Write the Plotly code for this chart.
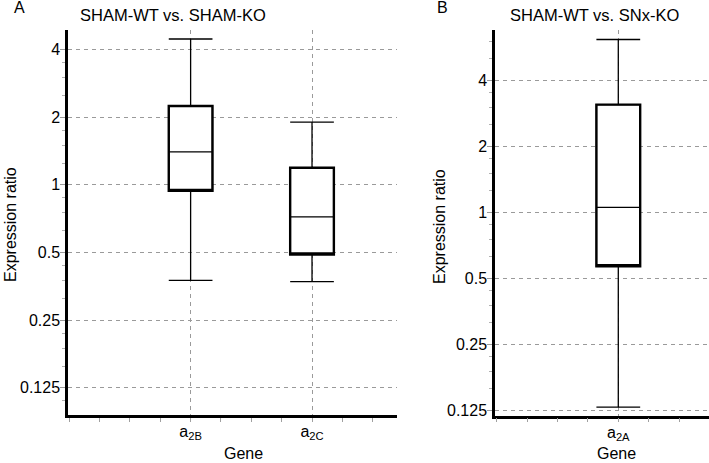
import math
import plotly.graph_objects as go

# ---- data ----
genes_a = ["a<sub>2B</sub>", "a<sub>2C</sub>"]
a_upper = [4.45, 1.90]
a_q3 = [2.24, 1.19]
a_median = [1.40, 0.72]
a_q1 = [0.94, 0.49]
a_lower = [0.376, 0.371]

genes_b = ["a<sub>2A</sub>"]
b_upper = [6.12]
b_q3 = [3.09]
b_median = [1.05]
b_q1 = [0.566]
b_lower = [0.129]

ytick_vals = [0.125, 0.25, 0.5, 1, 2, 4]
ytick_text = ["0.125", "0.25", "0.5", "1", "2", "4"]

W, H = 709, 463
FONT = "Liberation Sans, Arial, Helvetica, sans-serif"


def px(x):
    return x / W


def py(y):
    return 1 - y / H


pos_a = [i + 1 for i in range(len(genes_a))]
pos_b = [i + 1 for i in range(len(genes_b))]

minor_y = sorted({v * f for v in [0.0625] + ytick_vals + [8] for f in (1.25, 1.5, 1.75)})

fig = go.Figure()


def add_boxes(pos, q1, med, q3, lo, hi, xa, ya):
    # thin outline: whiskers + median
    fig.add_trace(go.Box(
        x=pos, q1=q1, median=med, q3=q3, lowerfence=lo, upperfence=hi,
        width=0.36, whiskerwidth=1, boxpoints=False,
        line=dict(color="black", width=1.3), fillcolor="white",
        xaxis=xa, yaxis=ya, showlegend=False, hoverinfo="skip"))
    # thick box outline overlay
    fig.add_trace(go.Box(
        x=pos, q1=q1, median=q1, q3=q3, lowerfence=q1, upperfence=q3,
        width=0.36, whiskerwidth=0, boxpoints=False,
        line=dict(color="black", width=2.4), fillcolor="rgba(0,0,0,0)",
        xaxis=xa, yaxis=ya, showlegend=False, hoverinfo="skip"))


add_boxes(pos_a, a_q1, a_median, a_q3, a_lower, a_upper, "x", "y")
add_boxes(pos_b, b_q1, b_median, b_q3, b_lower, b_upper, "x2", "y2")

grid = dict(showgrid=True, gridcolor="#9a9a9a", gridwidth=1, griddash="4px,4px")
tickfont = dict(family=FONT, size=16, color="black")


def xaxis(domain, rng, pos, labels, anchor):
    return dict(domain=domain, range=rng, tickmode="array", tickvals=pos, ticktext=labels,
                ticks="outside", ticklen=0, tickcolor="rgba(0,0,0,0)",
                showline=True, linecolor="black", linewidth=2.5, zeroline=False,
                tickfont=tickfont, anchor=anchor, automargin=False,
                minor=dict(tick0=0, dtick=0.25, ticks="outside", ticklen=4,
                           tickcolor="#a0a0a0", tickwidth=1, showgrid=False),
                **grid)


def yaxis(domain, rng, anchor):
    return dict(domain=domain, type="log", range=rng, anchor=anchor,
                tickmode="array", tickvals=ytick_vals, ticktext=ytick_text,
                ticks="outside", ticklen=5, tickcolor="#9a9a9a",
                ticklabelstandoff=-3,
                showline=True, linecolor="black", linewidth=2.5, zeroline=False,
                tickfont=tickfont, automargin=False,
                minor=dict(tickmode="array", tickvals=minor_y, ticks="outside",
                           ticklen=3, tickcolor="#b0b0b0", tickwidth=1, showgrid=False),
                **grid)


xa = xaxis([px(68), px(397)], [-0.01, 2.70], pos_a, genes_a, "y")
xb = xaxis([px(495), 1.0], [-0.014, 1.746], pos_b, genes_b, "y2")
ya = yaxis([py(415), py(30)], [math.log10(0.0947), math.log10(4.88)], "x")
yb = yaxis([py(415.7), py(30)], [math.log10(0.118), math.log10(6.76)], "x2")

ann = [
    dict(text="A", x=px(19), y=py(8), size=16),
    dict(text="SHAM-WT vs. SHAM-KO", x=px(173), y=py(15), size=16.5),
    dict(text="B", x=px(442), y=py(8), size=16),
    dict(text="SHAM-WT vs. SNx-KO", x=px(594), y=py(15), size=16.5),
    dict(text="Expression ratio", x=px(10), y=py(225), textangle=-90, size=16),
    dict(text="Expression ratio", x=px(439), y=py(227), textangle=-90, size=16),
    dict(text="Gene", x=px(243), y=py(453), size=16),
    dict(text="Gene", x=px(616), y=py(453), size=16),
]
for a in ann:
    s = a.pop("size")
    a.update(xref="paper", yref="paper", xanchor="center", yanchor="middle",
             showarrow=False, font=dict(family=FONT, size=s, color="black"))

fig.update_layout(
    template="none",
    width=W, height=H,
    margin=dict(l=0, r=0, t=0, b=0, pad=0, autoexpand=False),
    paper_bgcolor="white", plot_bgcolor="white",
    boxmode="overlay",
    xaxis=xa, yaxis=ya, xaxis2=xb, yaxis2=yb,
    annotations=ann,
    font=dict(family=FONT, size=16, color="black"),
)

fig.write_html("out.html", config={"displayModeBar": False},
               post_script="document.body.style.margin='0';document.body.style.padding='0';document.body.style.overflow='hidden';")
